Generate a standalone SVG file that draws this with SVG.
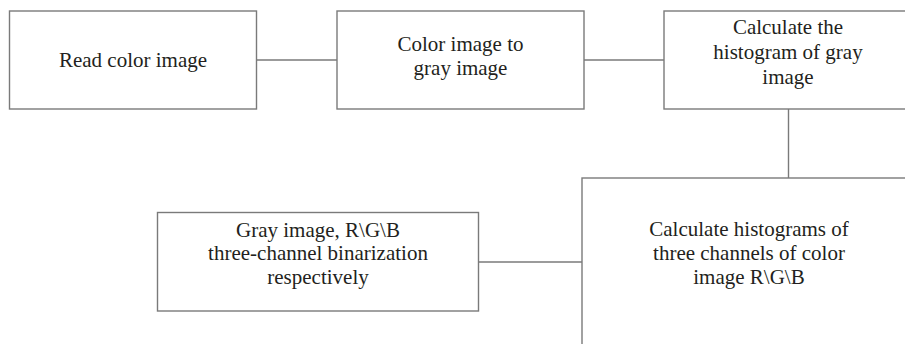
<svg xmlns="http://www.w3.org/2000/svg" width="905" height="344" viewBox="0 0 905 344">
  <style>
    .box { fill: #ffffff; stroke: #7a7a7a; stroke-width: 1.4; }
    .link { fill: none; stroke: #7a7a7a; stroke-width: 1.4; }
    .label { font-family: "Liberation Serif", "Times New Roman", serif; font-size: 21px; fill: #231f20; text-anchor: middle; }
  </style>
  <rect width="905" height="344" fill="#ffffff"/>

  <!-- connectors -->
  <g id="connectors">
    <line class="link" x1="256.5" y1="60" x2="337" y2="60"/>
    <line class="link" x1="584" y1="60" x2="664" y2="60"/>
    <line class="link" x1="788.5" y1="109" x2="788.5" y2="178"/>
    <line class="link" x1="478.5" y1="262" x2="582" y2="262"/>
  </g>

  <g id="read-color">
    <rect class="box" x="9.5" y="11" width="247" height="98"/>
    <text class="label" x="133" y="66.5">Read color image</text>
  </g>

  <g id="to-gray">
    <rect class="box" x="337" y="11" width="247" height="98"/>
    <text class="label" x="460.5" y="51">Color image to</text>
    <text class="label" x="460.5" y="75">gray image</text>
  </g>

  <g id="gray-histogram">
    <rect class="box" x="664" y="11" width="250" height="98"/>
    <text class="label" x="788" y="34">Calculate the</text>
    <text class="label" x="788" y="59">histogram of gray</text>
    <text class="label" x="788" y="84">image</text>
  </g>

  <g id="rgb-histograms">
    <rect class="box" x="582" y="178" width="340" height="180"/>
    <text class="label" x="749" y="236">Calculate histograms of</text>
    <text class="label" x="749" y="260">three channels of color</text>
    <text class="label" x="749" y="284">image R\G\B</text>
  </g>

  <g id="binarization">
    <rect class="box" x="157.5" y="212.5" width="321" height="98.5"/>
    <text class="label" x="318" y="236.5">Gray image, R\G\B</text>
    <text class="label" x="318" y="260">three-channel binarization</text>
    <text class="label" x="318" y="283.5">respectively</text>
  </g>
</svg>
